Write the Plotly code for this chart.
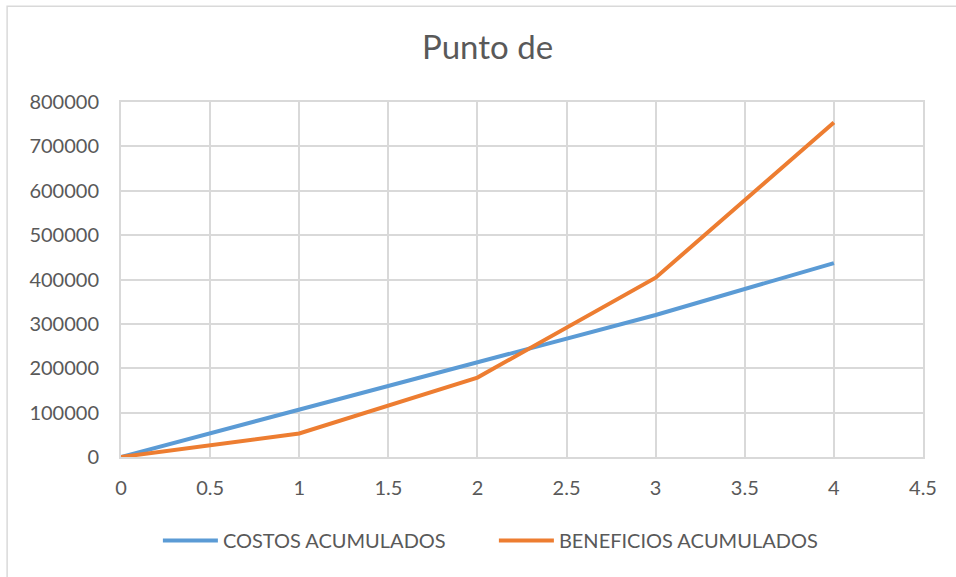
import plotly.graph_objects as go

x_vals = [0, 1, 2, 3, 4]
costos = [0, 106000, 212000, 320000, 437000]
beneficios = [0, 53000, 179000, 404000, 754000]
series_names = ["COSTOS ACUMULADOS", "BENEFICIOS ACUMULADOS"]
title_text = "Punto de"

FONT = "Lato, Open Sans, sans-serif"
GRID = "#d9d9d9"
TXT = "#595959"

fig = go.Figure()
fig.add_trace(go.Scatter(x=x_vals, y=costos, mode="lines", name=series_names[0],
                         line=dict(color="#5B9BD5", width=4)))
fig.add_trace(go.Scatter(x=x_vals, y=beneficios, mode="lines", name=series_names[1],
                         line=dict(color="#ED7D31", width=4)))

fig.update_layout(
    width=956, height=577,
    margin=dict(l=121, r=33, t=102, b=120),
    paper_bgcolor="white", plot_bgcolor="white",
    title=dict(text=title_text, x=0.51, xanchor="center", y=0.918, yanchor="middle",
               font=dict(family=FONT, size=33, color=TXT)),
    font=dict(family=FONT, size=20, color=TXT),
    legend=dict(orientation="h", x=0.046, xanchor="left", y=-0.18, yanchor="top",
                font=dict(size=20, color=TXT), itemwidth=55, tracegroupgap=0,
                entrywidth=266, entrywidthmode="pixels"),
    xaxis=dict(range=[0, 4.5], dtick=0.5, tick0=0, showgrid=True, gridcolor=GRID, gridwidth=2,
               zeroline=False, showline=True, linecolor=GRID, linewidth=2, mirror=True,
               ticks="", tickfont=dict(size=20, color=TXT), ticklabelstandoff=12),
    yaxis=dict(range=[0, 800000], dtick=100000, showgrid=True, gridcolor=GRID, gridwidth=2,
               zeroline=False, showline=True, linecolor=GRID, linewidth=2, mirror=True,
               ticks="", tickformat="d", tickfont=dict(size=20, color=TXT), ticklabelstandoff=16),
    shapes=[dict(type="rect", xref="paper", yref="paper",
                 x0=-0.142, x1=1.05, y0=-0.36, y1=1.27,
                 line=dict(color="#d9d9d9", width=1.5))],
)

fig.write_html("out.html", config={"displayModeBar": False},
               post_script="document.body.style.margin='0';document.body.style.overflow='hidden';")
